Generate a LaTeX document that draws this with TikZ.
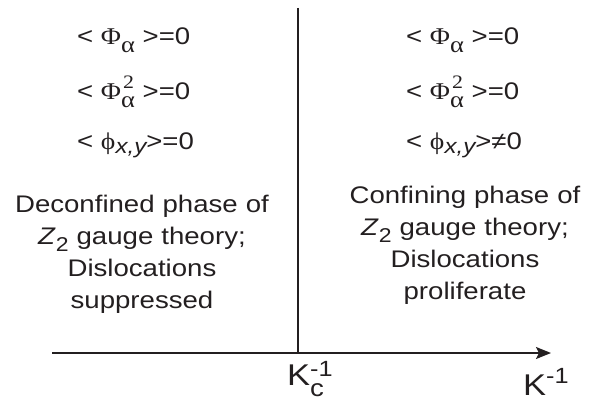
\documentclass[tikz,border=0pt]{standalone}
\usepackage{fontspec}
\setmainfont{Liberation Sans}[FakeStretch=1.15]
\newfontfamily\grk{Liberation Serif}[FakeStretch=1.15]
\usetikzlibrary{arrows.meta}
\definecolor{ink}{HTML}{231F20}
\newcommand\rz[3]{\raisebox{#1}{\fontsize{#2}{#2}\selectfont #3}}
\newcommand\lap[1]{\makebox[0pt][l]{#1}}
\tikzset{
  txt/.style={inner sep=0pt, text=ink, font=\fontsize{24}{32}\selectfont},
  eq/.style={txt, anchor=base west},
  para/.style={txt, anchor=base, text width=280pt, align=center},
  axisline/.style={draw=ink, line width=1.5pt},
}
\begin{document}
\begin{tikzpicture}[x=1pt,y=-1pt]
\useasboundingbox (0,0) rectangle (591,401);
\coordinate (top) at (298,8);
\coordinate (orig) at (298,353);
\coordinate (start) at (52,353);
\coordinate (end) at (551,353);
\draw[axisline] (top) -- (orig);
\draw[axisline, -{Stealth[length=15pt,width=12pt,inset=3pt]}] (start) -- (end);

% left equations
\node[eq] (l1) at (77,45) {< {\grk Φ}\rz{-8pt}{23}{\grk α} >=0};
\node[eq] (l2) at (77,100) {< {\grk Φ}\lap{\rz{11pt}{19}{\grk\kern2pt 2}}\rz{-8pt}{23}{\grk α} >=0};
\node[eq] (l3) at (77,149) {< {\grk ϕ}\rz{-4pt}{21}{\itshape x,y}>=0};
% right equations
\node[eq] (r1) at (406,45) {< {\grk Φ}\rz{-8pt}{23}{\grk α} >=0};
\node[eq] (r2) at (406,100) {< {\grk Φ}\lap{\rz{11pt}{19}{\grk\kern2pt 2}}\rz{-8pt}{23}{\grk α} >=0};
\node[eq] (r3) at (406,149) {< {\grk ϕ}\rz{-4pt}{21}{\itshape x,y}>≠0};

% paragraphs
\node[para] (lp) at (142,212) {Deconfined phase of\\ \textit{Z}\rz{-7pt}{20}{2} gauge theory;\\ Dislocations\\ suppressed};
\node[para] (rp) at (465,203) {Confining phase of\\ \textit{Z}\rz{-7pt}{20}{2} gauge theory;\\ Dislocations\\ proliferate};

% axis labels
\node[txt, anchor=base west, font=\fontsize{30}{30}\selectfont] (kc) at (287,385) {K\lap{\rz{9pt}{22}{-1}}\rz{-11pt}{24}{c}};
\node[txt, anchor=base west, font=\fontsize{30}{30}\selectfont] (k) at (523,395) {K\rz{12pt}{22}{-1}};
\end{tikzpicture}
\end{document}
